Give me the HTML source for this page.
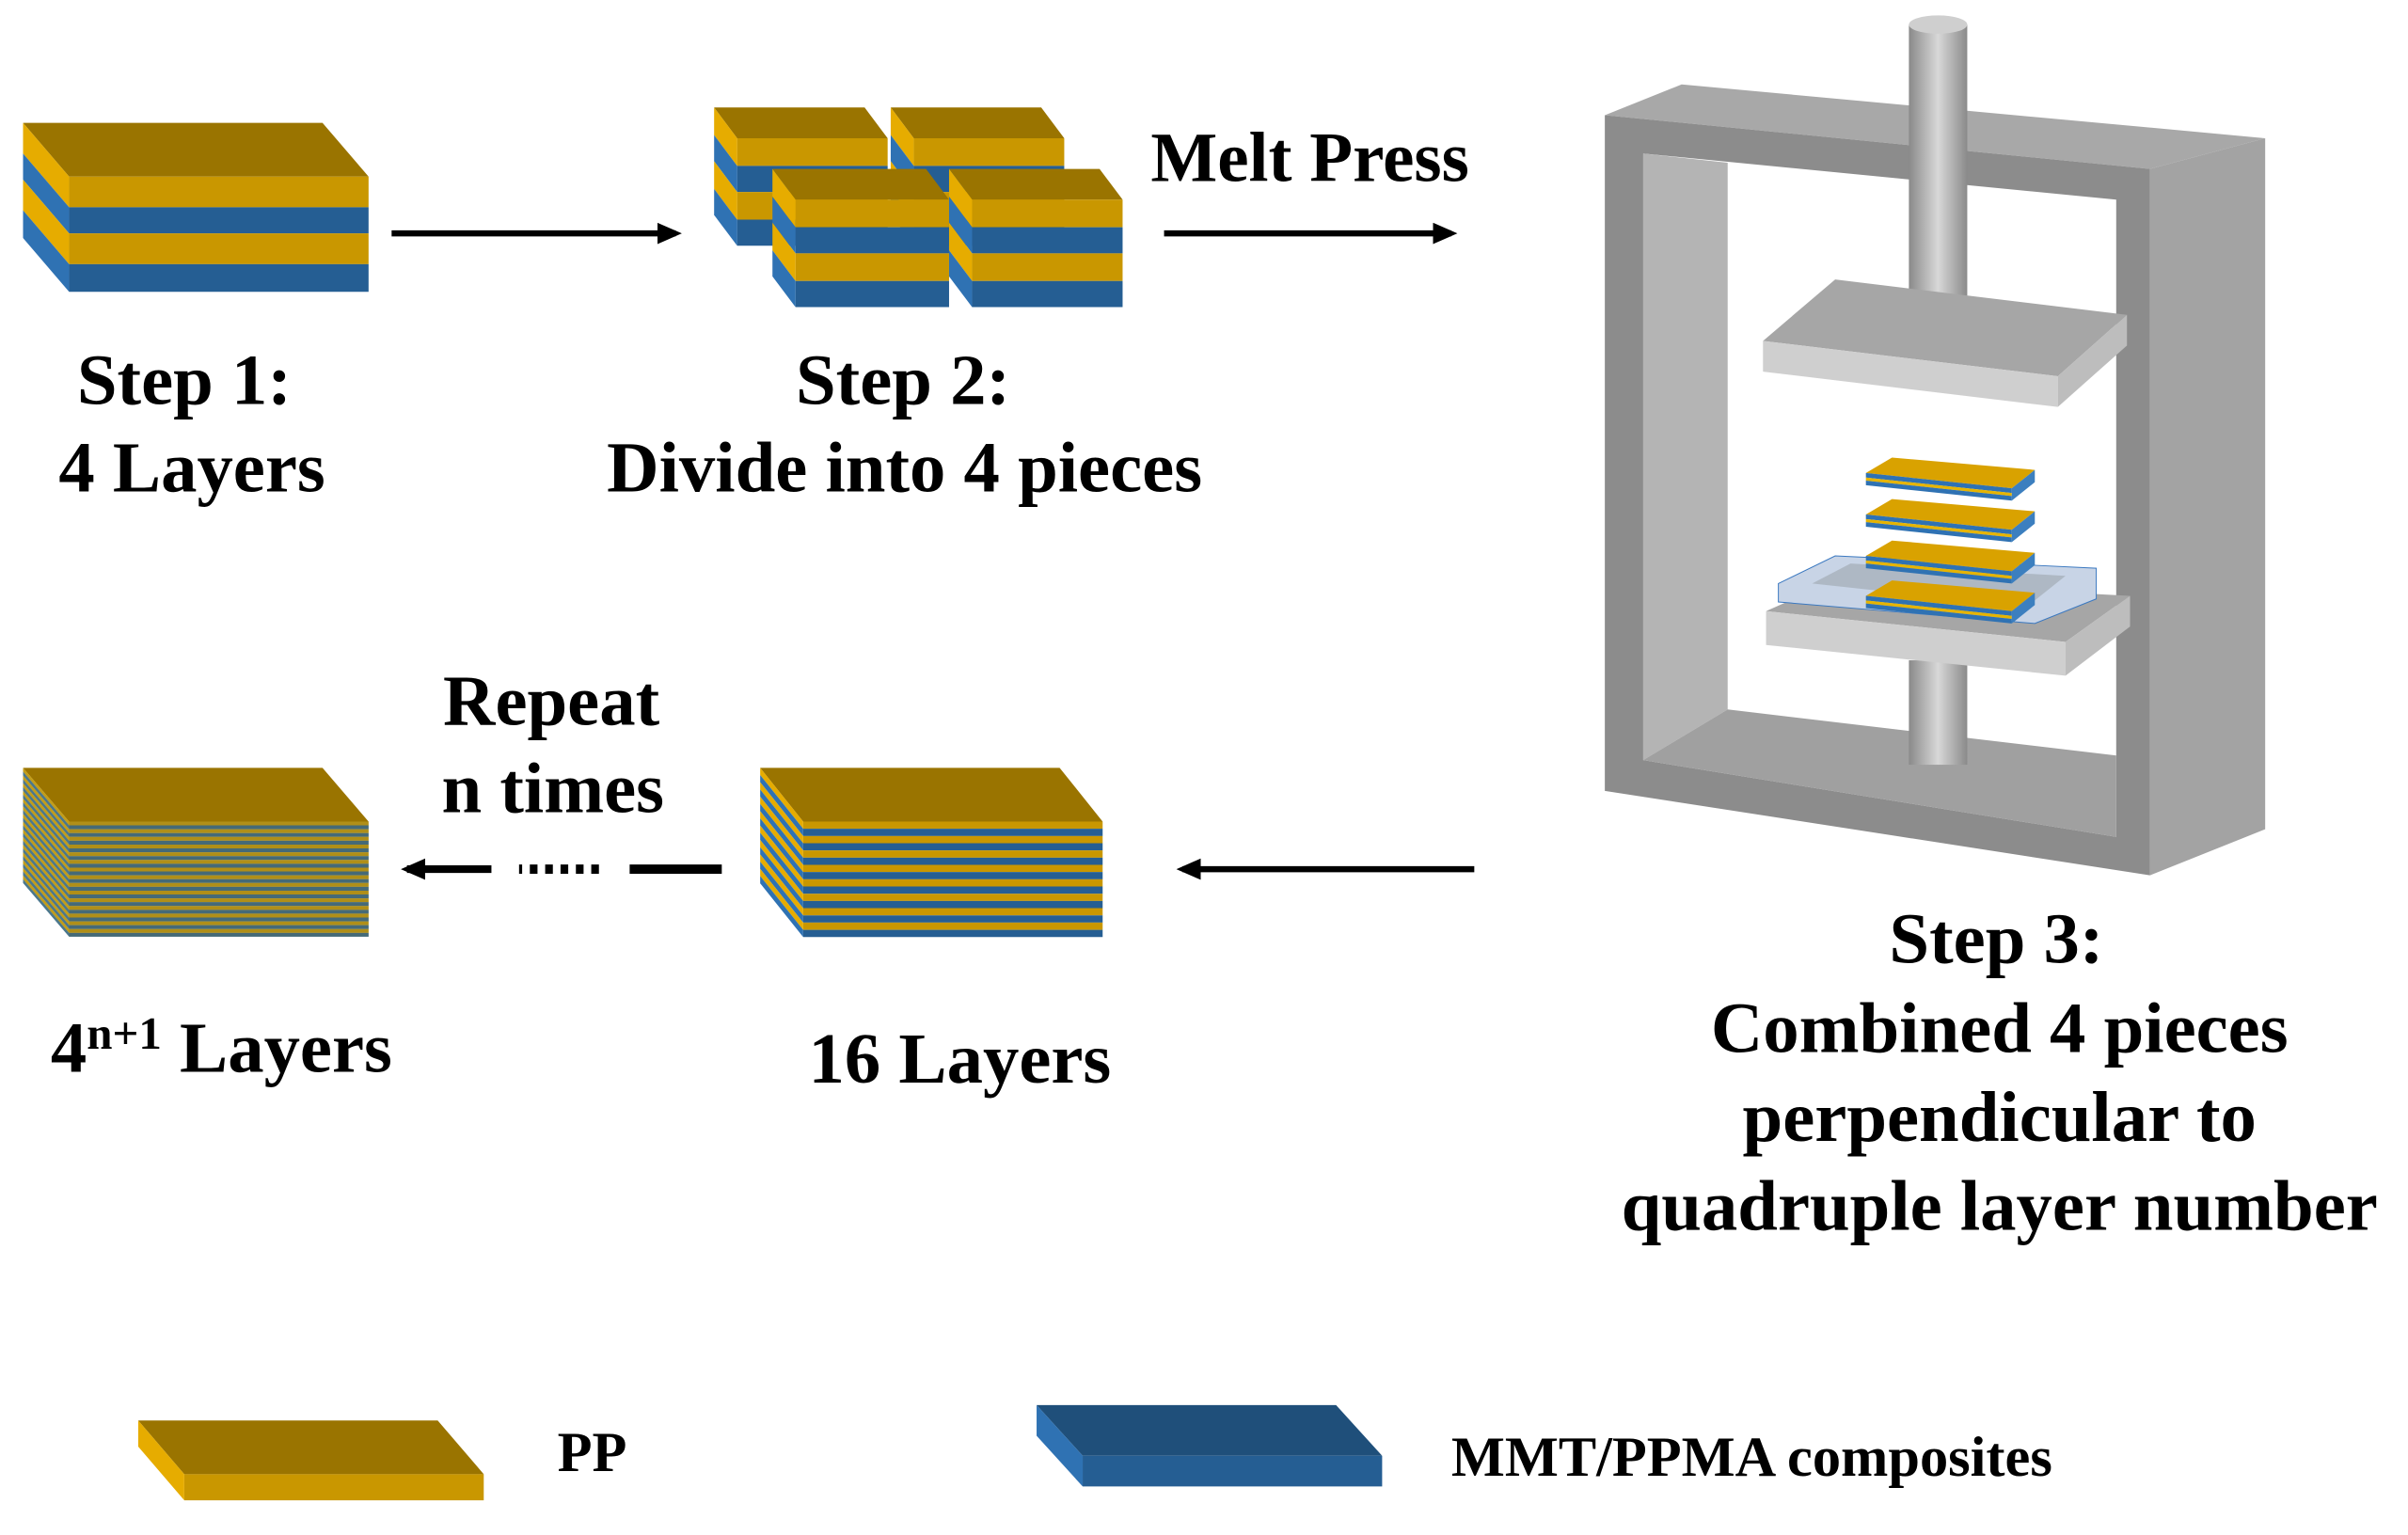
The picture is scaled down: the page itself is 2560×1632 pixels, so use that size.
<!DOCTYPE html>
<html><head><meta charset="utf-8"><style>
html,body{margin:0;padding:0;background:#fff;width:2560px;height:1632px;overflow:hidden}
svg{display:block}
text{font-family:"Liberation Serif",serif;font-weight:bold;fill:#000}
</style></head><body>
<svg id="s" width="2560" height="1632" viewBox="0 0 1568 999.6" preserveAspectRatio="none" xmlns="http://www.w3.org/2000/svg">
<defs>
<marker id="ah" markerWidth="16" markerHeight="14" refX="12" refY="7" orient="auto" markerUnits="userSpaceOnUse"><path d="M0,0 L16,7 L0,14 Z" fill="#000"/></marker>
<linearGradient id="pole" x1="0" x2="1"><stop offset="0" stop-color="#8a8a8a"/><stop offset="0.5" stop-color="#d8d8d8"/><stop offset="1" stop-color="#8a8a8a"/></linearGradient>
</defs>
<g id="g"></g>

<!-- arrows -->
<line x1="255" y1="152" x2="440" y2="152" stroke="#000" stroke-width="4" marker-end="url(#ah)"/>
<line x1="758" y1="152" x2="945" y2="152" stroke="#000" stroke-width="4" marker-end="url(#ah)"/>
<line x1="960" y1="566" x2="770" y2="566" stroke="#000" stroke-width="4" marker-end="url(#ah)"/>
<line x1="470" y1="566" x2="410" y2="566" stroke="#000" stroke-width="6"/>
<line x1="390" y1="566" x2="338" y2="566" stroke="#000" stroke-width="6" stroke-dasharray="5 5"/>
<line x1="320" y1="566" x2="265" y2="566" stroke="#000" stroke-width="5" marker-end="url(#ah)"/>

<!-- text -->
<text x="853" y="118" font-size="46" text-anchor="middle">Melt Press</text>
<text x="120" y="263" font-size="47" text-anchor="middle">Step 1:</text>
<text x="125" y="320" font-size="47" text-anchor="middle">4 Layers</text>
<text x="588" y="263" font-size="47" text-anchor="middle">Step 2:</text>
<text x="589" y="320" font-size="47" text-anchor="middle">Divide into 4 pieces</text>
<text x="359" y="472" font-size="47" text-anchor="middle">Repeat</text>
<text x="360" y="529" font-size="47" text-anchor="middle">n times</text>
<text x="33" y="698" font-size="47">4<tspan font-size="30" dy="-15">n+1</tspan><tspan dy="15"> Layers</tspan></text>
<text x="625" y="705" font-size="47" text-anchor="middle">16 Layers</text>
<text x="1300" y="627" font-size="47" text-anchor="middle">Step 3:</text>
<text x="1302" y="685" font-size="47" text-anchor="middle">Combined 4 pieces</text>
<text x="1302" y="743" font-size="47" text-anchor="middle">perpendicular to</text>
<text x="1302" y="801" font-size="47" text-anchor="middle">quadruple layer number</text>
<text x="363" y="958" font-size="37">PP</text>
<text x="945" y="961" font-size="37">MMT/PPMA composites</text>
</svg>
<script>
var g=document.getElementById('g');
function P(pts,fill,extra){var e=document.createElementNS('http://www.w3.org/2000/svg','polygon');e.setAttribute('points',pts.map(function(p){return p.join(',')}).join(' '));e.setAttribute('fill',fill);if(extra)e.setAttribute('stroke',extra),e.setAttribute('stroke-width','0.6');g.appendChild(e);}
var Y='#c99700',YS='#e6ac00',YT='#9a7400',B='#255e93',BS='#2f72b3';
function block(x,y,w,dx,dy,layers){
 P([[x,y],[x+w,y],[x+w+dx,y+dy],[x+dx,y+dy]],YT);
 var cy=y+dy;
 layers.forEach(function(l){var h=l[1],c=l[0];
  P([[x+dx,cy],[x+dx+w,cy],[x+dx+w,cy+h],[x+dx,cy+h]],c==='y'?Y:B);
  P([[x,cy-dy],[x+dx,cy],[x+dx,cy+h],[x,cy-dy+h]],c==='y'?YS:BS);
  cy+=h;});
}
block(15,80,195,30,35,[['y',20],['b',17],['y',20],['b',18]]);
var L4=[['y',18],['b',17],['y',18],['b',17]];
block(465,70,98,15,20,L4);
block(580,70,98,15,20,L4);
block(503,110,100,15,20,L4);
block(618,110,98,15,20,L4);
var L16=[];for(var i=0;i<16;i++)L16.push([i%2?'b':'y',4.7]);
block(495,500,195,28,35,L16);
var Ln=[];for(i=0;i<30;i++)Ln.push([i%2?'b':'y',2.5]);
block(15,500,195,30,35,Ln);
P([[15,500],[45,535],[240,535],[240,610],[45,610],[15,575]],'rgba(130,130,70,0.35)');
block(90,925,195,30,35,[['y',17]]);
(function(){P([[675,915],[870,915],[900,948],[705,948]],'#1f4f7a');P([[705,948],[900,948],[900,968],[705,968]],B);P([[675,915],[705,948],[705,968],[675,935]],BS);})();
// Press frame
P([[1045,75],[1095,55],[1475,90],[1400,110]],'#a8a8a8');
P([[1400,110],[1475,90],[1475,540],[1400,570]],'#a3a3a3');
P([[1045,75],[1400,110],[1400,570],[1045,515]],'#8c8c8c');
P([[1070,100],[1378,130],[1378,545],[1070,495]],'#ffffff');
P([[1070,100],[1125,106],[1125,462],[1070,495]],'#b4b4b4');
P([[1070,495],[1125,462],[1378,492],[1378,545]],'#a0a0a0');
function pole(x1,x2,y1,y2){var r=document.createElementNS('http://www.w3.org/2000/svg','rect');r.setAttribute('x',x1);r.setAttribute('y',y1);r.setAttribute('width',x2-x1);r.setAttribute('height',y2-y1);r.setAttribute('fill','url(#pole)');g.appendChild(r);}
pole(1243,1281,16,215);
var el=document.createElementNS('http://www.w3.org/2000/svg','ellipse');el.setAttribute('cx',1262);el.setAttribute('cy',16);el.setAttribute('rx',19);el.setAttribute('ry',6);el.setAttribute('fill','#cfcfcf');g.appendChild(el);
pole(1243,1281,430,498);
P([[1148,222],[1195,182],[1385,205],[1340,245]],'#a6a6a6');
P([[1148,222],[1340,245],[1340,265],[1148,242]],'#cfcfcf');
P([[1340,245],[1385,205],[1385,225],[1340,265]],'#bdbdbd');
P([[1150,398],[1195,378],[1387,388],[1345,418]],'#a6a6a6');
P([[1150,398],[1345,418],[1345,440],[1150,420]],'#cfcfcf');
P([[1345,418],[1387,388],[1387,408],[1345,440]],'#bdbdbd');
P([[1158,380],[1195,362],[1365,370],[1365,390],[1325,406],[1158,392]],'#c8d4e6','#3a78c0');
P([[1180,380],[1205,367],[1345,375],[1320,395]],'#aeb8c4');
[298,325,352,378].forEach(function(y){
 P([[1215,y+10],[1232,y],[1325,y+8],[1310,y+20]],'#d9a200');
 P([[1215,y+10],[1310,y+20],[1310,y+23],[1215,y+13]],'#2f72b3');
 P([[1215,y+13],[1310,y+23],[1310,y+25],[1215,y+15]],'#e6b400');
 P([[1215,y+15],[1310,y+25],[1310,y+28],[1215,y+18]],'#2f72b3');
 P([[1310,y+20],[1325,y+8],[1325,y+16],[1310,y+28]],'#3c7fbf');
});
</script>
</body></html>
